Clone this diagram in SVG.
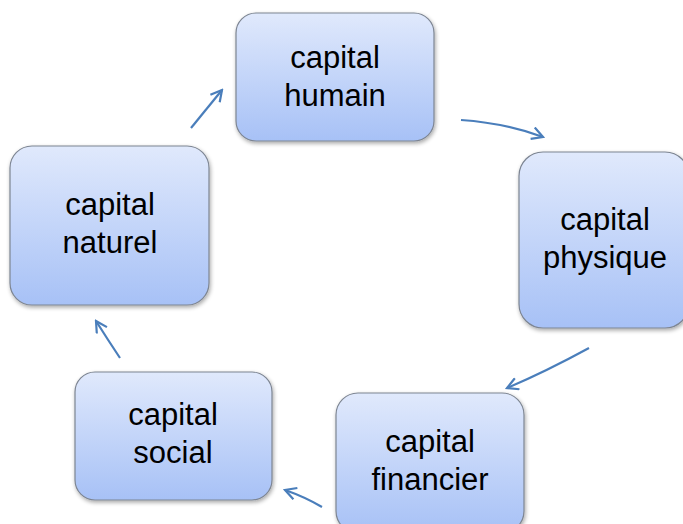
<svg xmlns="http://www.w3.org/2000/svg" width="683" height="524" viewBox="0 0 683 524">
<defs>
<linearGradient id="g" x1="0" y1="0" x2="0" y2="1">
<stop offset="0" stop-color="#e0e9fc"/>
<stop offset="1" stop-color="#a7c1f6"/>
</linearGradient>
<filter id="sh" x="-10%" y="-10%" width="130%" height="130%">
<feGaussianBlur in="SourceAlpha" stdDeviation="2"/>
<feOffset dx="1" dy="2" result="b"/>
<feComponentTransfer><feFuncA type="linear" slope="0.35"/></feComponentTransfer>
<feMerge><feMergeNode/><feMergeNode in="SourceGraphic"/></feMerge>
</filter>
<marker id="ah" markerWidth="14" markerHeight="14" refX="12" refY="7" orient="auto" markerUnits="userSpaceOnUse">
<path d="M1,1 L12,7 L1,13" fill="none" stroke="#4a7ebb" stroke-width="2.2"/>
</marker>
<style>
.box{fill:url(#g);stroke:#7d8592;stroke-width:1.2;filter:url(#sh)}
.t{font-family:"Liberation Sans",Arial,sans-serif;font-size:31px;fill:#000;text-anchor:middle}
.c{fill:none;stroke:#4a7ebb;stroke-width:2.2;marker-end:url(#ah)}
</style>
</defs>
<rect width="683" height="524" fill="#fff"/>
<g id="connectors">
<path class="c" d="M191,128 L222,90"/>
<path class="c" d="M461,120 Q505,123 543,137"/>
<path class="c" d="M589,348 Q545,372 507,388"/>
<path class="c" d="M322,507 Q305,497 285,490"/>
<path class="c" d="M120,358 Q108,340 96,321"/>
</g>
<g id="humain">
<rect class="box" x="236" y="13" width="198" height="128" rx="20"/>
<text class="t" x="335" y="68">capital</text>
<text class="t" x="335" y="106">humain</text>
</g>
<g id="physique">
<rect class="box" x="519" y="152" width="170" height="176" rx="24"/>
<text class="t" x="605" y="230">capital</text>
<text class="t" x="605" y="268">physique</text>
</g>
<g id="financier">
<rect class="box" x="336" y="393" width="188" height="140" rx="22"/>
<text class="t" x="430" y="452">capital</text>
<text class="t" x="430" y="490">financier</text>
</g>
<g id="social">
<rect class="box" x="75" y="372" width="197" height="128" rx="20"/>
<text class="t" x="173" y="425">capital</text>
<text class="t" x="173" y="463">social</text>
</g>
<g id="naturel">
<rect class="box" x="10" y="146" width="199" height="159" rx="22"/>
<text class="t" x="110" y="215">capital</text>
<text class="t" x="110" y="253">naturel</text>
</g>
</svg>
